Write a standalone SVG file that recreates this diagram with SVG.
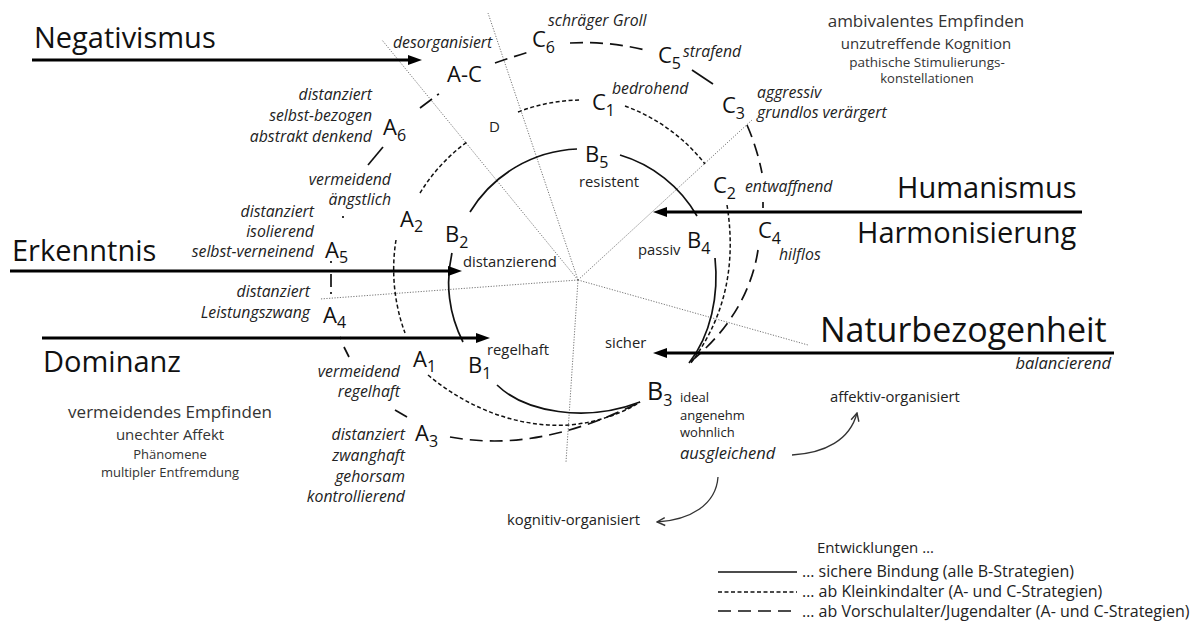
<svg xmlns="http://www.w3.org/2000/svg" width="1192" height="623" viewBox="0 0 1192 623">
  <style>
    text { font-family: "Open Sans", "Noto Sans", sans-serif; fill: #1a1a1a; }
    .big { font-size: 29px; fill: #111; }
    .it { font-style: italic; font-size: 15.8px; fill: #222; }
    .lab { font-size: 14.8px; fill: #222; }
    .leg { font-size: 16px; fill: #222; }
    .sym { font-size: 22px; fill: #111; }
    .sub { font-size: 16px; }
    .blk { fill: #333; }
    .solid { fill: none; stroke: #111; stroke-width: 1.7; }
    .sd { fill: none; stroke: #111; stroke-width: 1.5; stroke-dasharray: 4 2.5; }
    .ld { fill: none; stroke: #111; stroke-width: 1.7; stroke-dasharray: 13 7; }
    .seg { fill: none; stroke: #111; stroke-width: 1.7; }
    .ray { fill: none; stroke: #666; stroke-width: 0.9; stroke-dasharray: 1.2 1.5; }
    .axis { fill: none; stroke: #000; stroke-width: 3; }
    .flow { fill: none; stroke: #333; stroke-width: 1.3; }
  </style>
  <defs>
    <marker id="head" viewBox="0 0 14 10" markerUnits="userSpaceOnUse" markerWidth="14" markerHeight="10" refX="6" refY="5" orient="auto">
      <path d="M0,0 L14,5 L0,10 z" fill="#000"/>
    </marker>
    <marker id="chev" viewBox="0 0 10 10" markerUnits="userSpaceOnUse" markerWidth="10" markerHeight="10" refX="9" refY="5" orient="auto">
      <path d="M1,1 L9,5 L1,9" fill="none" stroke="#333" stroke-width="1.4"/>
    </marker>
  </defs>

  <rect width="1192" height="623" fill="#fff"/>

  <!-- connectors: rays, development arcs, axis arrows, flow arrows -->
  <g id="connectors">
    <g id="rays">
      <line class="ray" x1="578" y1="280" x2="382" y2="40"/>
      <line class="ray" x1="578" y1="280" x2="488" y2="13"/>
      <line class="ray" x1="578" y1="280" x2="752" y2="120"/>
      <line class="ray" x1="578" y1="280" x2="320" y2="299"/>
      <line class="ray" x1="578" y1="280" x2="808" y2="345"/>
      <line class="ray" x1="578" y1="280" x2="566" y2="462"/>
    </g>
    <g id="secure">
      <path class="solid" d="M470,212 A132,132 0 0 1 577,149"/>
      <path class="solid" d="M620,155 A132,132 0 0 1 697,216"/>
      <path class="solid" d="M715,258 C719,295 711,335 689,363"/>
      <path class="solid" d="M452,253 A130,130 0 0 0 463,342"/>
      <path class="solid" d="M497,385 C525,412 585,423 640,402"/>
    </g>
    <g id="early">
      <path class="sd" d="M420,193 A180,180 0 0 1 467,142"/>
      <path class="sd" d="M518,112 A180,180 0 0 1 581,100"/>
      <path class="sd" d="M625,106 A180,180 0 0 1 705,164"/>
      <path class="sd" d="M727,205 C735,255 730,312 690,364"/>
      <path class="sd" d="M396,240 A185,185 0 0 0 405,333"/>
      <path class="sd" d="M428,375 C470,410 520,428 570,425 C600,422 625,412 640,402"/>
    </g>
    <g id="late">
      <path class="ld" d="M495,63 Q512,57 529,52"/>
      <path class="ld" d="M570,43 Q608,41 645,50"/>
      <path class="seg" d="M692,70 L713,84"/>
      <path class="ld" d="M747,125 Q757,148 762,173"/>
      <path class="seg" d="M763,202 L763,208"/>
      <path class="ld" d="M758,250 C752,290 730,330 690,362"/>
      <path class="seg" d="M420,108 L432,99 M437,95 L439,94"/>
      <path class="seg" d="M368,165 L383,147"/>
      <path class="seg" d="M343,216 L343,218"/>
      <path class="seg" d="M331,261 L331,263 M331,274 L331,287 M331,292 L331,294"/>
      <path class="seg" d="M340,337 L341,339 M344,347 L349,357"/>
      <path class="seg" d="M395,410 L407,417"/>
      <path class="ld" d="M450,437 C500,446 560,442 640,402"/>
    </g>
    <g id="axes">
      <line class="axis" x1="32" y1="60" x2="414" y2="60" marker-end="url(#head)"/>
      <line class="axis" x1="10" y1="271" x2="454" y2="271" marker-end="url(#head)"/>
      <line class="axis" x1="42" y1="338" x2="482" y2="338" marker-end="url(#head)"/>
      <line class="axis" x1="1082" y1="212" x2="661" y2="212" marker-end="url(#head)"/>
      <line class="axis" x1="1114" y1="353" x2="661" y2="353" marker-end="url(#head)"/>
    </g>
    <g id="flows">
      <path class="flow" d="M792,455 C825,453 850,440 857,413" marker-end="url(#chev)"/>
      <path class="flow" d="M718,477 C716,505 690,520 657,522" marker-end="url(#chev)"/>
    </g>
  </g>

  <!-- axis titles -->
  <g id="negativismus"><text class="big" x="34" y="48">Negativismus</text></g>
  <g id="erkenntnis"><text class="big" x="12" y="261">Erkenntnis</text></g>
  <g id="dominanz"><text class="big" x="43" y="372">Dominanz</text></g>
  <g id="humanismus"><text class="big" x="897" y="198">Humanismus</text></g>
  <g id="harmonisierung"><text class="big" x="857" y="243">Harmonisierung</text></g>
  <g id="naturbezogenheit">
    <text class="big" x="820" y="342" style="font-size:34px">Naturbezogenheit</text>
    <text class="it" x="1111" y="369" text-anchor="end" style="font-size:16.5px">balancierend</text>
  </g>

  <!-- summary blocks -->
  <g id="ambivalent" text-anchor="middle">
    <text class="blk" x="926" y="27" style="font-size:17px">ambivalentes Empfinden</text>
    <text class="blk" x="926" y="49" style="font-size:15px">unzutreffende Kognition</text>
    <text class="blk" x="927" y="67" style="font-size:13.5px">pathische Stimulierungs-</text>
    <text class="blk" x="927" y="83" style="font-size:13px">konstellationen</text>
  </g>
  <g id="vermeidend" text-anchor="middle">
    <text class="blk" x="170" y="418" style="font-size:17px">vermeidendes Empfinden</text>
    <text class="blk" x="170" y="440" style="font-size:15px">unechter Affekt</text>
    <text class="blk" x="170" y="459" style="font-size:13px">Phänomene</text>
    <text class="blk" x="170" y="477" style="font-size:13px">multipler Entfremdung</text>
  </g>

  <!-- strategy nodes -->
  <g id="node-AC">
    <text class="sym" x="447" y="82">A-C</text>
    <text class="it" x="393" y="48">desorganisiert</text>
  </g>
  <g id="node-D"><text class="lab" x="489" y="132" style="font-size:15px">D</text></g>
  <g id="node-C6">
    <text class="sym" x="532" y="47">C<tspan class="sub" dy="6">6</tspan></text>
    <text class="it" x="548" y="26">schräger Groll</text>
  </g>
  <g id="node-C5">
    <text class="sym" x="658" y="63">C<tspan class="sub" dy="6">5</tspan></text>
    <text class="it" x="683" y="57">strafend</text>
  </g>
  <g id="node-C1">
    <text class="sym" x="592" y="110">C<tspan class="sub" dy="6">1</tspan></text>
    <text class="it" x="612" y="94">bedrohend</text>
  </g>
  <g id="node-C3">
    <text class="sym" x="722" y="113">C<tspan class="sub" dy="6">3</tspan></text>
    <text class="it" x="757" y="98">aggressiv</text>
    <text class="it" x="757" y="118">grundlos verärgert</text>
  </g>
  <g id="node-C2">
    <text class="sym" x="713" y="193">C<tspan class="sub" dy="6">2</tspan></text>
    <text class="it" x="745" y="192">entwaffnend</text>
  </g>
  <g id="node-C4">
    <text class="sym" x="758" y="238">C<tspan class="sub" dy="6">4</tspan></text>
    <text class="it" x="779" y="260">hilflos</text>
  </g>
  <g id="node-B5">
    <text class="sym" x="585" y="162">B<tspan class="sub" dy="6">5</tspan></text>
    <text class="lab" x="579" y="187">resistent</text>
  </g>
  <g id="node-B4">
    <text class="sym" x="687" y="248">B<tspan class="sub" dy="6">4</tspan></text>
    <text class="lab" x="638" y="255">passiv</text>
  </g>
  <g id="node-B3">
    <text class="sym" x="647" y="400" style="font-size:25px">B<tspan class="sub" dy="6">3</tspan></text>
    <text class="lab" x="680" y="402" style="font-size:13px">ideal</text>
    <text class="lab" x="680" y="420" style="font-size:13px">angenehm</text>
    <text class="lab" x="680" y="437" style="font-size:13px">wohnlich</text>
    <text class="it" x="680" y="459" style="font-size:16.5px">ausgleichend</text>
    <text class="lab" x="605" y="348">sicher</text>
  </g>
  <g id="node-B2">
    <text class="sym" x="445" y="242">B<tspan class="sub" dy="6">2</tspan></text>
    <text class="lab" x="463" y="267">distanzierend</text>
  </g>
  <g id="node-B1">
    <text class="sym" x="468" y="373">B<tspan class="sub" dy="6">1</tspan></text>
    <text class="lab" x="487" y="355">regelhaft</text>
  </g>
  <g id="node-A2">
    <text class="sym" x="400" y="227">A<tspan class="sub" dy="5">2</tspan></text>
    <text class="it" x="391" y="185" text-anchor="end">vermeidend</text>
    <text class="it" x="391" y="205" text-anchor="end">ängstlich</text>
  </g>
  <g id="node-A1">
    <text class="sym" x="413" y="367">A<tspan class="sub" dy="5">1</tspan></text>
    <text class="it" x="400" y="377" text-anchor="end">vermeidend</text>
    <text class="it" x="400" y="397" text-anchor="end">regelhaft</text>
  </g>
  <g id="node-A6">
    <text class="sym" x="383" y="135">A<tspan class="sub" dy="6">6</tspan></text>
    <text class="it" x="372" y="100" text-anchor="end">distanziert</text>
    <text class="it" x="372" y="121" text-anchor="end">selbst-bezogen</text>
    <text class="it" x="372" y="142" text-anchor="end">abstrakt denkend</text>
  </g>
  <g id="node-A5">
    <text class="sym" x="325" y="258">A<tspan class="sub" dy="5">5</tspan></text>
    <text class="it" x="314" y="217" text-anchor="end">distanziert</text>
    <text class="it" x="314" y="237" text-anchor="end">isolierend</text>
    <text class="it" x="314" y="257" text-anchor="end">selbst-verneinend</text>
  </g>
  <g id="node-A4">
    <text class="sym" x="323" y="323">A<tspan class="sub" dy="5">4</tspan></text>
    <text class="it" x="310" y="297" text-anchor="end">distanziert</text>
    <text class="it" x="310" y="318" text-anchor="end">Leistungszwang</text>
  </g>
  <g id="node-A3">
    <text class="sym" x="415" y="441">A<tspan class="sub" dy="6">3</tspan></text>
    <text class="it" x="405" y="440" text-anchor="end">distanziert</text>
    <text class="it" x="405" y="461" text-anchor="end">zwanghaft</text>
    <text class="it" x="405" y="482" text-anchor="end">gehorsam</text>
    <text class="it" x="405" y="502" text-anchor="end">kontrollierend</text>
  </g>

  <!-- organisation targets -->
  <g id="affektiv"><text class="lab" x="830" y="402">affektiv-organisiert</text></g>
  <g id="kognitiv"><text class="lab" x="507" y="525">kognitiv-organisiert</text></g>

  <!-- legend -->
  <g id="legend">
    <text class="leg" x="817" y="553" style="font-size:15px">Entwicklungen …</text>
    <line class="solid" x1="718" y1="572" x2="797" y2="572"/>
    <line class="sd" x1="718" y1="592" x2="797" y2="592"/>
    <line class="ld" x1="718" y1="611" x2="797" y2="611"/>
    <text class="leg" x="802" y="577">… sichere Bindung (alle B-Strategien)</text>
    <text class="leg" x="802" y="597">… ab Kleinkindalter (A- und C-Strategien)</text>
    <text class="leg" x="802" y="617">… ab Vorschulalter/Jugendalter (A- und C-Strategien)</text>
  </g>
</svg>
